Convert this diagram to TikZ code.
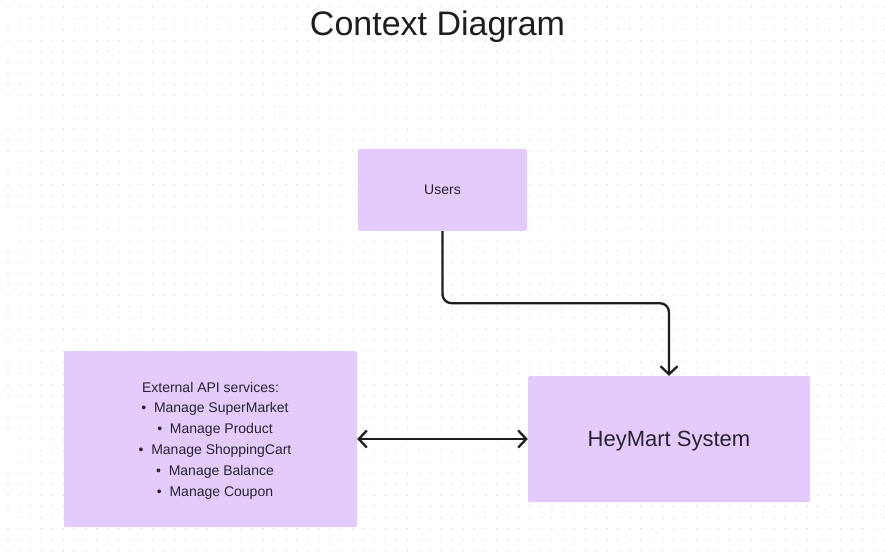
\documentclass[tikz,border=0pt]{standalone}
\usepackage{fontspec}
\setmainfont{Liberation Sans}
\usetikzlibrary{arrows.meta}
\definecolor{boxfill}{RGB}{227,204,253}
\definecolor{ink}{RGB}{30,30,30}
\definecolor{txt}{RGB}{40,34,48}
\definecolor{dotc}{RGB}{200,200,200}
\begin{document}
\begin{tikzpicture}[x=1pt,y=-1pt,
  entity/.style={fill=boxfill, draw=none, rounded corners=2pt, inner sep=0pt, text=txt, text depth=0pt},
  conn/.style={draw=ink, line width=2.3pt, rounded corners=9pt}]
\useasboundingbox (0,0) rectangle (885,553);
\fill[white] (0,0) rectangle (885,553);
\foreach \i in {0,...,79}{
  \foreach \j in {0,...,49}{
    \fill[dotc] ({8+\i*11.1},{7+\j*11.1}) circle (0.6);
  }
}
\node[text=ink, font=\fontsize{34}{40}\selectfont] (title) at (437.5,27) {Context Diagram};
\node[entity, minimum width=169pt, minimum height=82pt, font=\fontsize{14}{17}\selectfont] (users) at (442.5,190) {Users};
\node[entity, minimum width=293pt, minimum height=176pt, align=center, font=\fontsize{14}{20.8}\selectfont] (ext) at (210.5,439)
  {External API services:\\
   \hspace*{9pt}\textbullet\ \ Manage SuperMarket\\
   \hspace*{9pt}\textbullet\ \ Manage Product\\
   \hspace*{9pt}\textbullet\ \ Manage ShoppingCart\\
   \hspace*{9pt}\textbullet\ \ Manage Balance\\
   \hspace*{9pt}\textbullet\ \ Manage Coupon};
\node[entity, minimum width=282pt, minimum height=126pt, font=\fontsize{22}{26}\selectfont] (hey) at (669,439) {HeyMart System};
\draw[conn, -{Straight Barb[length=8pt,width=17pt]}] (users.south) -- ++(0,72) -| (hey.north);
\draw[conn, {Straight Barb[length=8pt,width=17pt]}-{Straight Barb[length=8pt,width=17pt]}] (ext.east) -- (hey.west);
\end{tikzpicture}
\end{document}
